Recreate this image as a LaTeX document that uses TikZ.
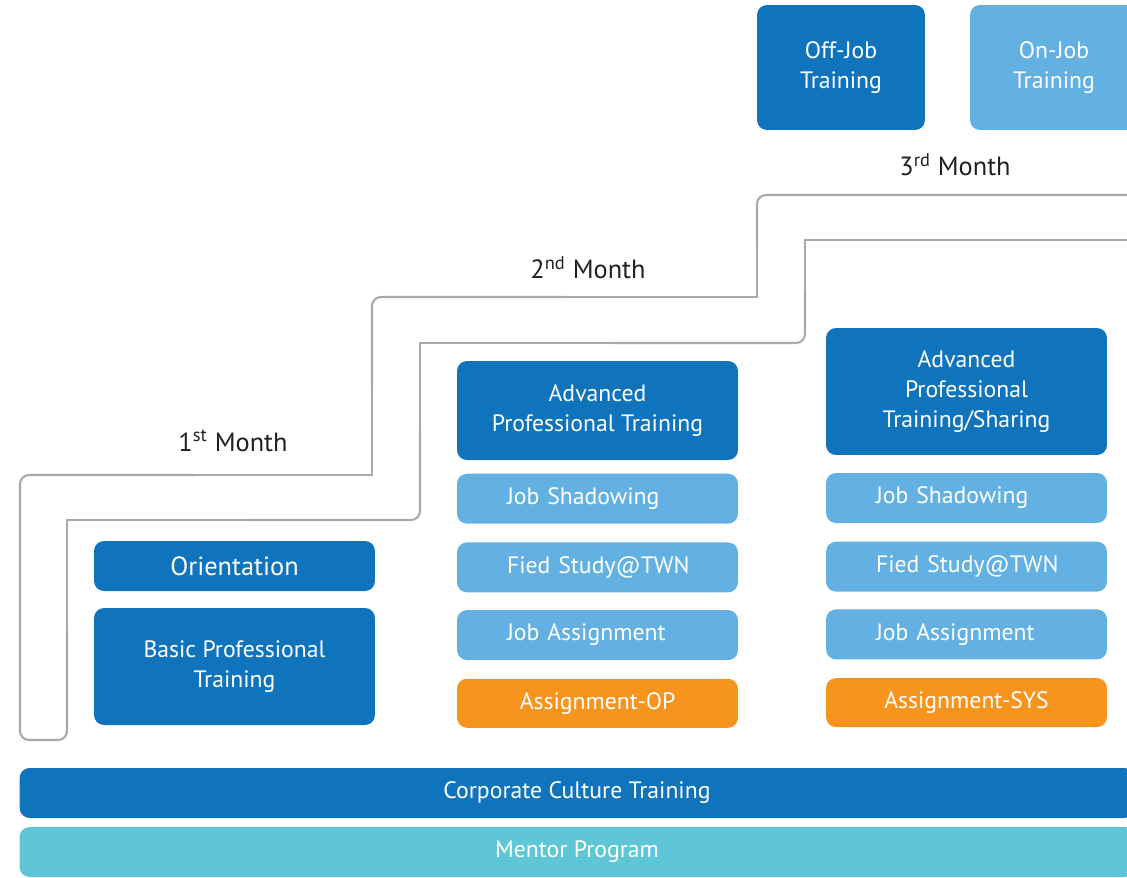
\documentclass[tikz,border=0pt]{standalone}
\usepackage{fontspec}
\setmainfont{PT Sans}
\usetikzlibrary{positioning}

\definecolor{offblue}{RGB}{16,116,188}
\definecolor{onblue}{RGB}{98,177,226}
\definecolor{taskorange}{RGB}{247,148,29}
\definecolor{mentorteal}{RGB}{94,198,214}
\definecolor{stairgray}{RGB}{167,169,172}
\definecolor{monthtext}{RGB}{35,31,32}

\begin{document}
\begin{tikzpicture}[
  x=0.02cm, y=-0.02cm,
  box/.style={rectangle, rounded corners=0.2cm, align=center, text=white, inner sep=2pt, font=\fontsize{13.5}{17}\selectfont},
  dark/.style={box, fill=offblue},
  light/.style={box, fill=onblue},
  task/.style={box, fill=taskorange},
  cell/.style={minimum width=5.62cm, minimum height=1.0cm},
  row/.style={light, cell, inner xsep=0pt, text width=5.62cm, align=left, execute at begin node=\hspace*{1cm}},
  stair/.style={draw=stairgray, line width=1.2pt},
  month/.style={font=\fontsize{15}{18}\selectfont, text=monthtext},
]
\useasboundingbox (0,0) rectangle (1127,877);

% === STAIRS ===
\draw[stair, rounded corners=0.18cm] (1140,195) -- (757,195) -- (757,246);
\draw[stair] (757,246) -- (757,297) -- (565,297);
\draw[stair, rounded corners=0.18cm] (565,297) -- (372,297) -- (372,386);
\draw[stair] (372,386) -- (372,475) -- (196,475);
\draw[stair, rounded corners=0.18cm] (196,475) -- (20,475) -- (20,740) -- (67,740) -- (67,630);
\draw[stair] (67,630) -- (67,520) -- (243,520);
\draw[stair, rounded corners=0.18cm] (243,520) -- (420,520) -- (420,431);
\draw[stair] (420,431) -- (420,343) -- (612,343);
\draw[stair, rounded corners=0.18cm] (612,343) -- (805,343) -- (805,291);
\draw[stair] (805,291) -- (805,240) -- (1140,240);

\node[month] (m1) at (233,441) {1\textsuperscript{st} Month};
\node[month] (m2) at (588,268) {2\textsuperscript{nd} Month};
\node[month] (m3) at (955,165) {3\textsuperscript{rd} Month};

% === LEGEND ===
\node[dark, minimum width=3.36cm, minimum height=2.5cm] (offjob) at (841,67.5) {Off-Job\\Training};
\node[light, minimum width=3.36cm, minimum height=2.5cm] (onjob) at (1054,67.5) {On-Job\\Training};

% === 1st MONTH ===
\node[dark, cell, font=\fontsize{15}{18}\selectfont] (orient) at (234.5,566) {Orientation};
\node[dark, cell, minimum height=2.34cm] (basic) at (234.5,666.5) {Basic Professional\\Training};

% === 2nd MONTH ===
\node[dark, cell, minimum height=1.98cm] (adv2) at (597.5,410.5) {Advanced\\Professional Training};
\node[row, below=0.26cm of adv2] (shadow2) {Job Shadowing};
\node[row, below=0.36cm of shadow2] (study2) {Fied Study@TWN};
\node[row, below=0.34cm of study2] (assign2) {Job Assignment};
\node[task, cell, minimum height=0.98cm, below=0.36cm of assign2] (op) {Assignment-OP};

% === 3rd MONTH ===
\node[dark, cell, minimum height=2.54cm] (adv3) at (966.5,391.5) {Advanced\\Professional\\Training/Sharing};
\node[row] (shadow3) at (966.5,498) {Job Shadowing};
\node[row, below=0.36cm of shadow3] (study3) {Fied Study@TWN};
\node[row, below=0.34cm of study3] (assign3) {Job Assignment};
\node[task, cell, minimum height=0.98cm, below=0.36cm of assign3] (sys) {Assignment-SYS};

% === BASE ===
\node[dark, minimum width=22.3cm, minimum height=1.0cm] (culture) at (577,793) {Corporate Culture Training};
\node[box, fill=mentorteal, minimum width=22.3cm, minimum height=1.0cm] (mentor) at (577,852) {Mentor Program};
\end{tikzpicture}
\end{document}
